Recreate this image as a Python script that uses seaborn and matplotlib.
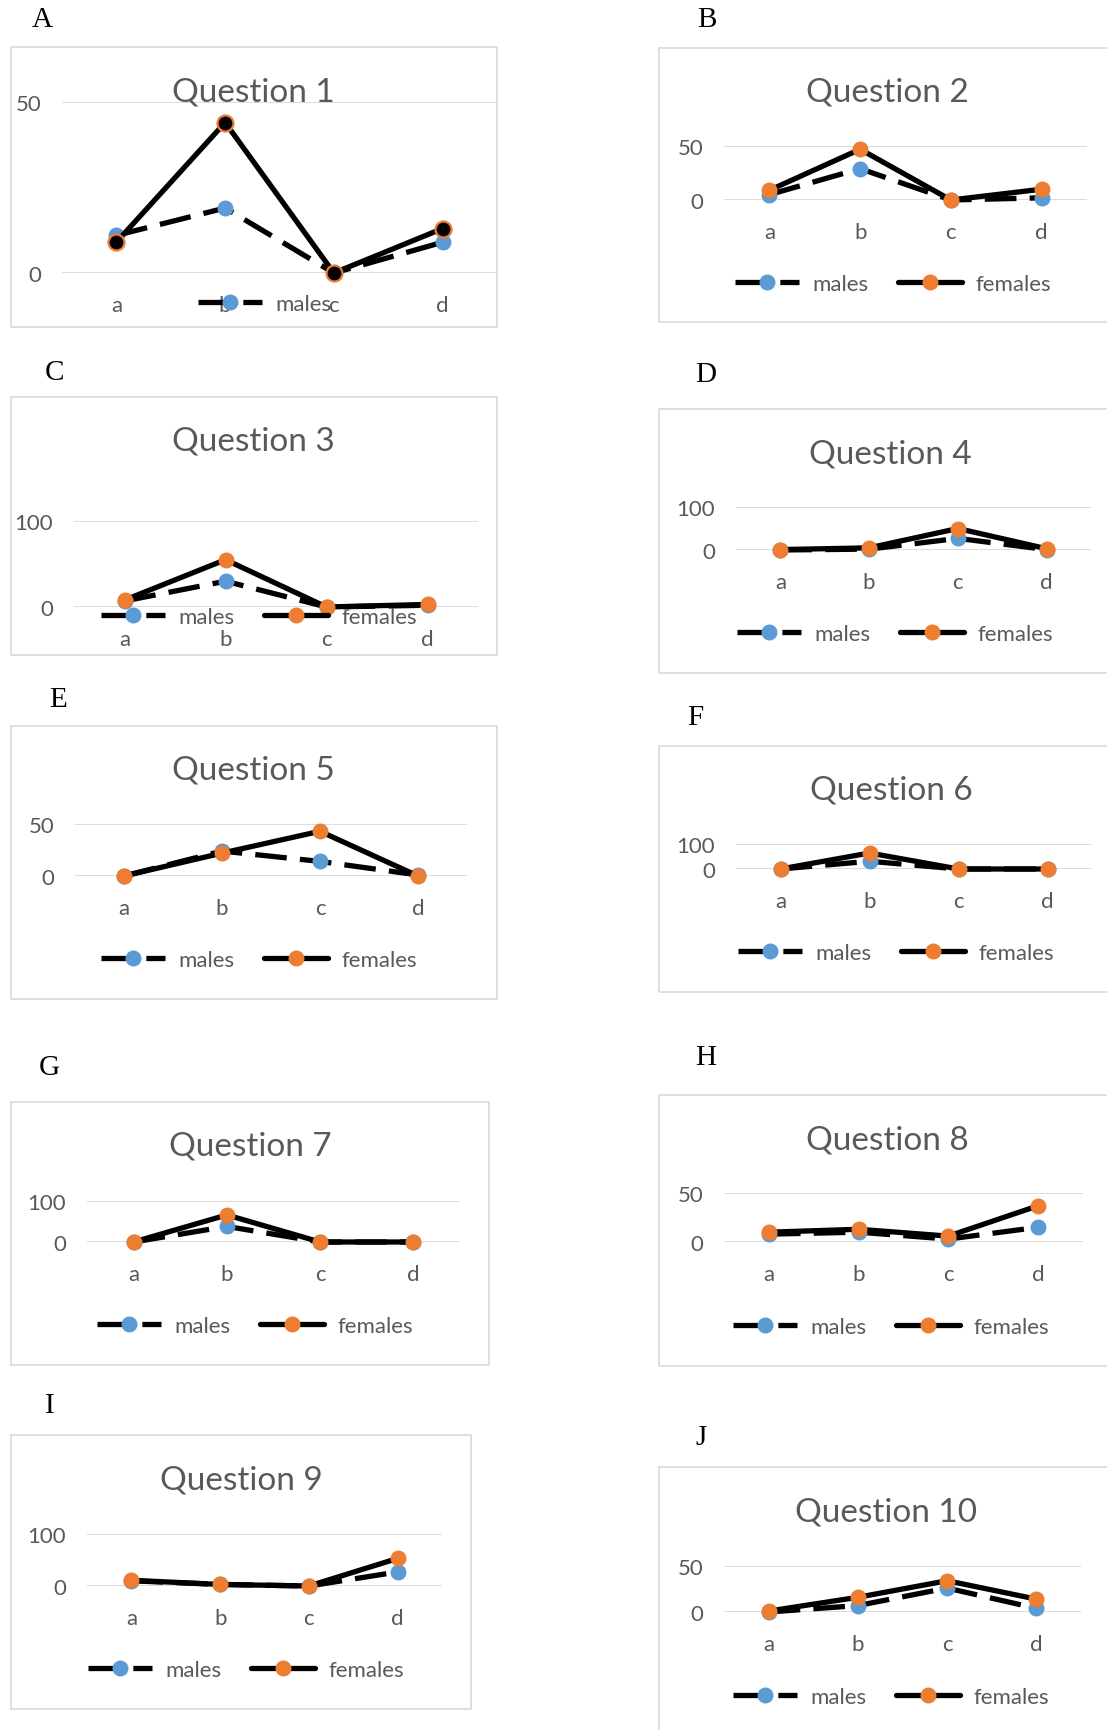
import matplotlib
matplotlib.use("Agg")
import matplotlib.pyplot as plt
import seaborn as sns
from matplotlib.patches import Rectangle

categories = ["a", "b", "c", "d"]

q1_males = [11, 19, 0, 9]
q1_females = [9, 44, 0, 13]
q2_males = [5, 29, 0, 2]
q2_females = [9, 47, 0, 10]
q3_males = [7, 30, 0, 2]
q3_females = [8, 55, 0, 3]
q4_males = [0, 2, 27, 1]
q4_females = [1, 5, 50, 3]
q5_males = [0, 24, 14, 1]
q5_females = [0, 22, 43, 0]
q6_males = [0, 31, 0, 0]
q6_females = [0, 64, 0, 0]
q7_males = [0, 38, 0, 0]
q7_females = [0, 66, 0, 0]
q8_males = [8, 10, 3, 15]
q8_females = [10, 13, 6, 37]
q9_males = [10, 3, 0, 27]
q9_females = [11, 3, 0, 53]
q10_males = [0, 7, 26, 4]
q10_females = [1, 16, 34, 14]

males = [q1_males, q2_males, q3_males, q4_males, q5_males,
         q6_males, q7_males, q8_males, q9_males, q10_males]
females = [q1_females, q2_females, q3_females, q4_females, q5_females,
           q6_females, q7_females, q8_females, q9_females, q10_females]
titles = [f"Question {i}" for i in range(1, 11)]
letters = list("ABCDEFGHIJ")
y_tops = [50, 50, 100, 100, 50, 100, 100, 50, 100, 50]

BLUE = "#5B9BD5"
ORANGE = "#ED7D31"
GRAY = "#595959"
GRID = "#D9D9D9"

W, H = 1107, 1731

# pixel layout: box, grid (x0, x1, y_zero, y_top), letter, title, legend (left, y)
boxes = [(11, 48, 497, 328), (659, 49, 1112, 323), (11, 398, 497, 656), (659, 410, 1112, 674),
         (11, 727, 497, 1000), (659, 747, 1112, 993), (11, 1103, 489, 1366), (659, 1096, 1112, 1367),
         (11, 1436, 471, 1710), (659, 1468, 1112, 1740)]
grids = [(62, 497, 274, 103), (724, 1087, 201, 147), (74, 478, 608, 522), (736, 1091, 551, 508),
         (75, 467, 877, 825), (736, 1092, 870, 845), (87, 460, 1243, 1202), (724, 1083, 1243, 1194),
         (87, 442, 1587, 1535), (724, 1081, 1613, 1567)]
letter_pos = [(32, 20), (697, 20), (45, 373), (695, 375), (49, 700),
              (687, 718), (39, 1068), (695, 1058), (45, 1406), (695, 1438)]
title_pos = [(253, 93), (887, 93), (253, 442), (890, 454), (253, 771),
             (891, 791), (250, 1147), (887, 1140), (241, 1481), (886, 1513)]
legend_pos = [(198, 305), (735, 285), (101, 618), (737, 635), (101, 961),
              (738, 954), (97, 1327), (733, 1328), (88, 1671), (733, 1698)]

sns.set_style("white")
plt.rcParams["font.family"] = ["Lato", "DejaVu Sans"]


def fx(x):
    return x / W


def fy(y):
    return 1 - y / H


fig = plt.figure(figsize=(W / 100, H / 100), dpi=100)

for i in range(10):
    x0, y0, x1, y1 = boxes[i]
    fig.patches.append(Rectangle((fx(x0), fy(y1)), (x1 - x0) / W, (y1 - y0) / H,
                                 transform=fig.transFigure, fill=False,
                                 edgecolor=GRID, lw=1.2))
    gx0, gx1, gz, gt = grids[i]
    ax = fig.add_axes([fx(gx0), fy(gz), (gx1 - gx0) / W, (gz - gt) / H])
    ax.patch.set_alpha(0)

    sns.lineplot(x=categories, y=males[i], ax=ax, sort=False, color="black", lw=3.8,
                 linestyle=(0, (6, 2.5)), marker="o", markersize=11.5,
                 markerfacecolor=BLUE, markeredgecolor=BLUE, markeredgewidth=0,
                 label="males", clip_on=False, zorder=3)
    if i == 0:
        f_face, f_edge, f_ew = "black", ORANGE, 1.6
    else:
        f_face, f_edge, f_ew = ORANGE, ORANGE, 0
    sns.lineplot(x=categories, y=females[i], ax=ax, sort=False, color="black", lw=3.8,
                 marker="o", markersize=11.5, markerfacecolor=f_face,
                 markeredgecolor=f_edge, markeredgewidth=f_ew,
                 label="females", clip_on=False, zorder=4)

    ax.set_xlim(-0.5, 3.5)
    ax.set_ylim(0, y_tops[i])
    ax.set_yticks([0, y_tops[i]])
    ax.set_xlabel("")
    ax.set_ylabel("")
    ax.yaxis.grid(True, color=GRID, lw=1.3)
    ax.xaxis.grid(False)
    ax.set_axisbelow(True)
    for s in ax.spines.values():
        s.set_visible(False)
    ax.tick_params(axis="x", length=0, labelsize=16, labelcolor=GRAY, pad=16)
    ax.tick_params(axis="y", length=0, labelsize=16, labelcolor=GRAY, pad=15)

    handles, labels = ax.get_legend_handles_labels()
    if i == 0:
        handles, labels = handles[:1], labels[:1]
    lx, ly = legend_pos[i]
    ax.legend(handles, labels, loc="center left", bbox_to_anchor=(fx(lx), fy(ly)),
              bbox_transform=fig.transFigure, ncol=2, frameon=False, fontsize=16,
              handlelength=2.9, handletextpad=0.6, columnspacing=1.3,
              borderpad=0, borderaxespad=0, labelcolor=GRAY)

    tx, ty = title_pos[i]
    fig.text(fx(tx), fy(ty), titles[i], ha="center", va="center", fontsize=24, color=GRAY)
    lx, ly = letter_pos[i]
    fig.text(fx(lx), fy(ly), letters[i], ha="left", va="center", fontsize=21,
             family="Liberation Serif", color="black")

fig.savefig("out.png", dpi=100)
